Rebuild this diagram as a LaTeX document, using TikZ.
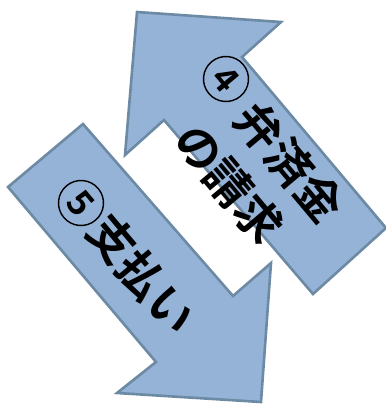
\documentclass[tikz,border=0pt]{standalone}
\usepackage{fontspec}
\newfontfamily\jpfont{Noto Sans CJK JP}[BoldFont={* Bold}]
\definecolor{arrowfill}{HTML}{95B3D7}
\definecolor{arrowline}{HTML}{6C8AA3}
\begin{document}
\begin{tikzpicture}[x=1pt,y=-1pt,
  blockarrow/.style={fill=arrowfill,draw=arrowline,line width=2.6pt,line join=miter},
  label/.style={font=\jpfont\bfseries\fontsize{46}{60}\selectfont,align=center,inner sep=0pt,rotate=-50},
  circnum/.style={circle,draw=black,line width=1.4pt,minimum size=45pt,inner sep=0pt,rotate=-50,font=\jpfont\bfseries\fontsize{35}{35}\selectfont}]
\useasboundingbox (0,0) rectangle (386,405);
% upper arrow (pointing up-left)
\draw[blockarrow] (137,12) -- (281,22) -- (242,57) -- (386,228) -- (313,294) -- (164,120) -- (125,155) -- cycle;
% lower arrow (pointing down-right)
\draw[blockarrow] (83,124) -- (233,296) -- (271,263) -- (261,402) -- (117,393) -- (156,362) -- (8,187) -- cycle;
\node[label] (req) at (252,164) {\hphantom{弁}弁済金\\の請求};
\node[label] (pay) at (127,257) {\hphantom{弁}支払い};
\node[circnum] (c4) at (226,79) {4};
\node[circnum] (c5) at (81,203) {5};
\end{tikzpicture}
\end{document}
